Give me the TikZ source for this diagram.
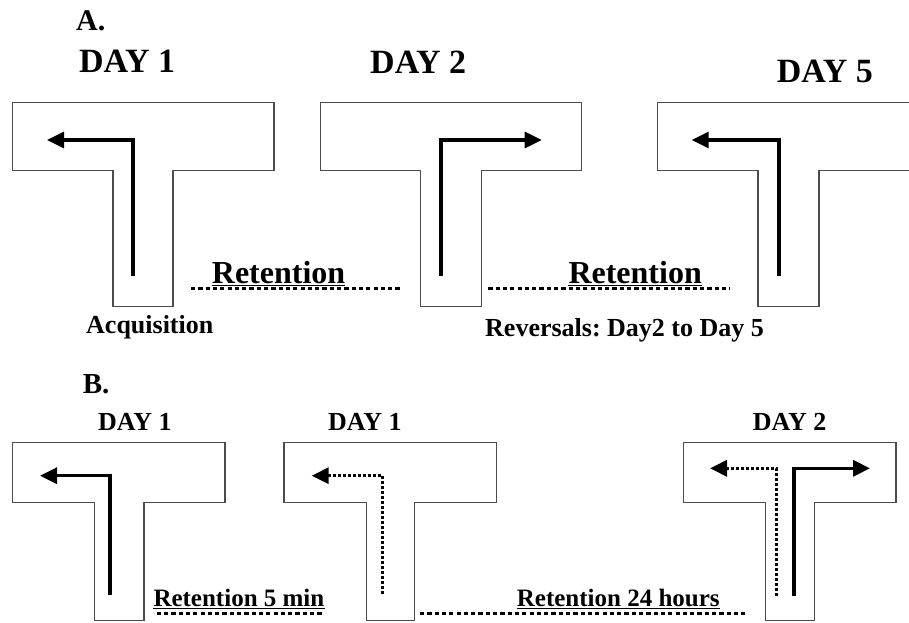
\documentclass[tikz,border=0pt]{standalone}
\usepackage{fontspec}
\setmainfont{Liberation Serif}
\usetikzlibrary{arrows.meta}
\frenchspacing
\newcommand{\fsz}[1]{\fontsize{#1pt}{#1pt}\selectfont\bfseries}
% left, right, top, barbottom, stemleft, stemright, bottom
\newcommand{\tmaze}[7]{\draw[maze] (#1,#3) -- (#2,#3) -- (#2,#4) -- (#6,#4) -- (#6,#7) -- (#5,#7) -- (#5,#4) -- (#1,#4) -- cycle;}
\begin{document}
\begin{tikzpicture}[x=1pt,y=-1pt,
  maze/.style={draw=black!70,line width=1.2pt,line join=miter},
  run/.style={draw=black,line width=3.2pt,line join=miter,-{Triangle[length=17pt,width=16pt]}},
  dotrun/.style={run,dash pattern=on 3pt off 2pt},
  lbl/.style={inner sep=0pt,anchor=base west},
  dotline/.style={draw=black,line width=3.4pt,dash pattern=on 4.2pt off 3.1pt},
  uline/.style={draw=black,line width=1pt}]
\useasboundingbox (0,0) rectangle (909,622);
\begin{scope}
\clip (0,0) rectangle (909,622);
% ---- row A mazes
\tmaze{12.7}{274}{102.5}{170.5}{113}{173}{306.5}
\tmaze{320.7}{581.7}{102.5}{170.5}{420.7}{481.7}{306.5}
\tmaze{657.7}{919}{102.5}{170.5}{758}{819}{306.5}
% ---- row B mazes
\tmaze{12.7}{225}{442.7}{502.3}{94.3}{144}{620.7}
\tmaze{284}{496.7}{442.7}{502.3}{366.7}{414.3}{620.7}
\tmaze{683.3}{896}{442.7}{502.3}{765.7}{814.3}{620.7}
\end{scope}
% ---- arrow coordinates
\coordinate (a1s) at (133,276);   \coordinate (a1c) at (133,140);   \coordinate (a1e) at (47,140);
\coordinate (a2s) at (441,276);   \coordinate (a2c) at (441,140);   \coordinate (a2e) at (541.7,140);
\coordinate (a3s) at (779,276);   \coordinate (a3c) at (779,140);   \coordinate (a3e) at (691.7,140);
\coordinate (b1s) at (110,595);   \coordinate (b1c) at (110,475.7); \coordinate (b1e) at (40,475.7);
\coordinate (b2s) at (382.3,594); \coordinate (b2c) at (382.3,475.7); \coordinate (b2e) at (311.7,475.7);
\coordinate (b3ds) at (776.7,596); \coordinate (b3dc) at (776.7,468.3); \coordinate (b3de) at (710,468.3);
\coordinate (b3s) at (794,596);   \coordinate (b3c) at (794,468.3); \coordinate (b3e) at (870,468.3);
\draw[run] (a1s) -- (a1c) -- (a1e);
\draw[run] (a2s) -- (a2c) -- (a2e);
\draw[run] (a3s) -- (a3c) -- (a3e);
\draw[run] (b1s) -- (b1c) -- (b1e);
\draw[dotrun] (b2s) -- (b2c) -- (b2e);
\draw[dotrun] (b3ds) -- (b3dc) -- (b3de);
\draw[run] (b3s) -- (b3c) -- (b3e);
% ---- labels row A
\node[lbl,font=\fsz{30}] (A) at (76,30) {A.};
\node[lbl,font=\fsz{34}] (d1) at (79,72) {DAY 1};
\node[lbl,font=\fsz{34}] (d2) at (370,73) {DAY 2};
\node[lbl,font=\fsz{34}] (d5) at (776.7,82) {DAY 5};
\node[lbl,font=\fsz{32}] (r1) at (211.7,283.3) {Retention};
\node[lbl,font=\fsz{32}] (r2) at (568.3,283.3) {Retention};
\node[lbl,font=\fsz{26}] (acq) at (86,333) {Acquisition};
\node[lbl,font=\fsz{26}] (rev) at (485,336) {Reversals: Day2 to Day 5};
% ---- labels row B
\node[lbl,font=\fsz{29}] (B) at (82.7,393) {B.};
\node[lbl,font=\fsz{26}] (e1) at (98,430.7) {DAY 1};
\node[lbl,font=\fsz{26}] (e2) at (328,430.7) {DAY 1};
\node[lbl,font=\fsz{26}] (e3) at (752.7,430.7) {DAY 2};
\node[lbl,font=\fsz{25}] (r3) at (153.3,606.7) {Retention 5 min};
\node[lbl,font=\fsz{25}] (r4) at (516.7,606.7) {Retention 24 hours};
% ---- underlines
\draw[uline] ([yshift=-2pt]r1.base west) -- ([yshift=-2pt]r1.base east);
\draw[uline] ([yshift=-2pt]r2.base west) -- ([yshift=-2pt]r2.base east);
\draw[uline] ([yshift=-1.8pt]r3.base west) -- ([yshift=-1.8pt]r3.base east);
\draw[uline] ([yshift=-1.8pt]r4.base west) -- ([yshift=-1.8pt]r4.base east);
% ---- dotted retention lines
\coordinate (t1s) at (191,288.3);   \coordinate (t1e) at (400,288.3);
\coordinate (t2s) at (488.3,288.3); \coordinate (t2e) at (730,288.3);
\coordinate (u1s) at (156.7,613.3); \coordinate (u1e) at (323,613.3);
\coordinate (u2s) at (420,613.3);   \coordinate (u2e) at (746.7,613.3);
\draw[dotline] (t1s) -- (t1e);
\draw[dotline] (t2s) -- (t2e);
\draw[dotline] (u1s) -- (u1e);
\draw[dotline] (u2s) -- (u2e);
\end{tikzpicture}
\end{document}
